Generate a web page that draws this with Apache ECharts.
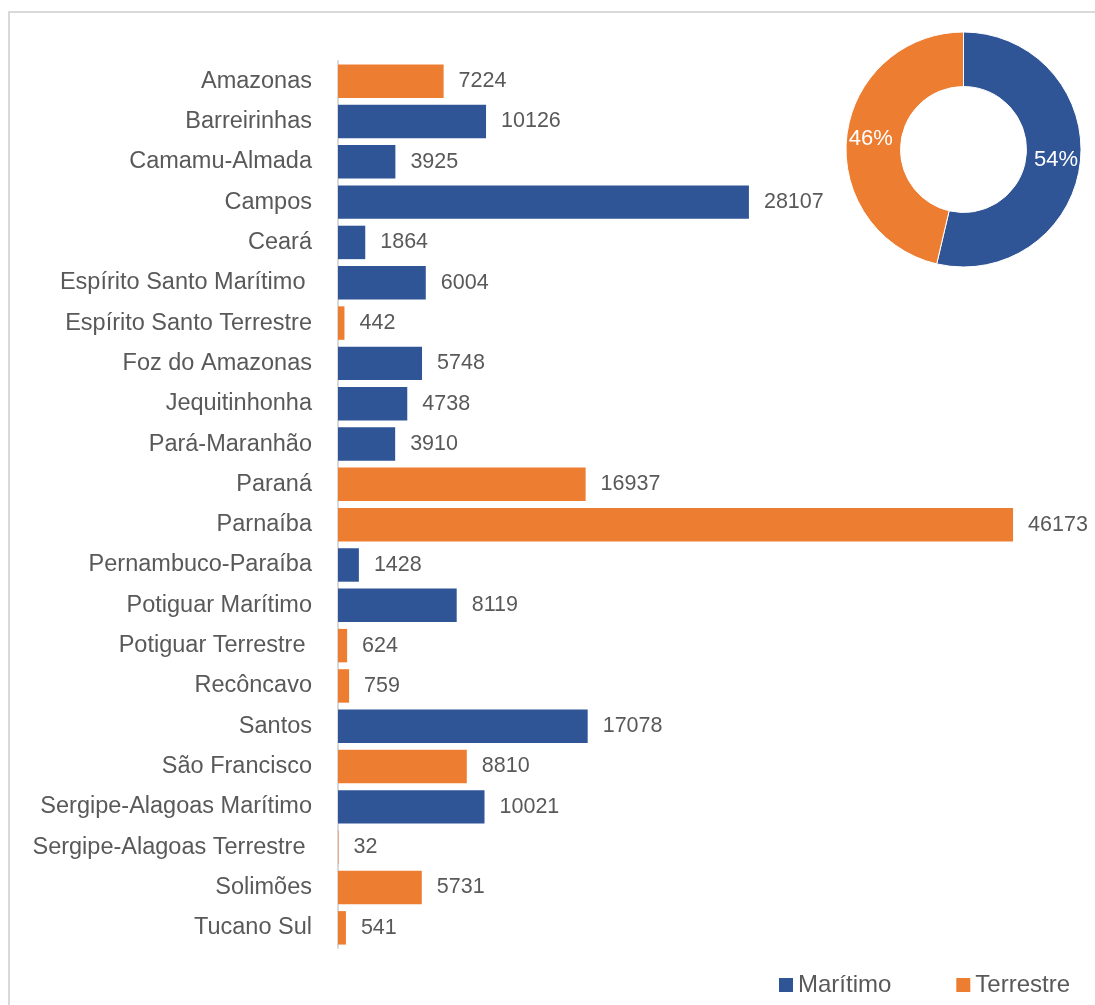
<!DOCTYPE html>
<html>
<head>
<meta charset="utf-8">
<title>Bacias sedimentares</title>
<script src="https://cdn.jsdelivr.net/npm/echarts@6/dist/echarts.min.js"></script>
<style>
  html, body { margin: 0; padding: 0; background: #fff; }
  #chart { width: 1095px; height: 1005px; }
</style>
</head>
<body>
<div id="chart"></div>
<script>
// Basins, top to bottom
const categories = [
  'Amazonas', 'Barreirinhas', 'Camamu-Almada', 'Campos', 'Ceará',
  'Espírito Santo Marítimo ', 'Espírito Santo Terrestre', 'Foz do Amazonas',
  'Jequitinhonha', 'Pará-Maranhão', 'Paraná', 'Parnaíba', 'Pernambuco-Paraíba',
  'Potiguar Marítimo', 'Potiguar Terrestre ', 'Recôncavo', 'Santos',
  'São Francisco', 'Sergipe-Alagoas Marítimo', 'Sergipe-Alagoas Terrestre ',
  'Solimões', 'Tucano Sul'
];

// Offshore values (null where the basin is onshore)
const maritimo = [
  null, 10126, 3925, 28107, 1864, 6004, null, 5748, 4738, 3910, null, null,
  1428, 8119, null, null, 17078, null, 10021, null, null, null
];

// Onshore values (null where the basin is offshore)
const terrestre = [
  7224, null, null, null, null, null, 442, null, null, null, 16937, 46173,
  null, null, 624, 759, null, 8810, null, 32, 5731, 541
];

const seriesNames = ['Marítimo', 'Terrestre'];
const colors = ['#2F5597', '#ED7D31'];

const sum = arr => arr.reduce((s, v) => s + (v || 0), 0);
const totals = [sum(maritimo), sum(terrestre)];

const FONT = '"Liberation Sans", Arial, sans-serif';
const TEXT = '#595959';

const barLabel = {
  show: true,
  position: 'right',
  distance: 15,
  color: TEXT,
  fontFamily: FONT,
  fontSize: 21.5
};

const chart = echarts.init(document.getElementById('chart'), null, { renderer: 'canvas' });

chart.setOption({
  animation: false,
  backgroundColor: '#fff',
  textStyle: { fontFamily: FONT },
  graphic: [{
    type: 'rect',
    shape: { x: 9, y: 12, width: 1100, height: 1000 },
    style: { fill: 'none', stroke: '#D9D9D9', lineWidth: 2 },
    silent: true,
    z: -1
  }],
  legend: {
    data: seriesNames,
    right: 20,
    top: 968,
    icon: 'rect',
    itemWidth: 14,
    itemHeight: 14,
    itemGap: 65,
    textStyle: { color: TEXT, fontFamily: FONT, fontSize: 24 }
  },
  grid: {
    left: 338,
    top: 61,
    width: 731,
    height: 887,
    containLabel: false
  },
  xAxis: {
    type: 'value',
    min: 0,
    max: 50000,
    show: false,
    splitLine: { show: false }
  },
  yAxis: {
    type: 'category',
    data: categories,
    inverse: true,
    axisLine: { show: true, lineStyle: { color: '#D9D9D9', width: 2 } },
    axisTick: { show: false },
    axisLabel: {
      color: TEXT,
      fontFamily: FONT,
      fontSize: 23.5,
      margin: 26
    }
  },
  series: [
    {
      name: seriesNames[0],
      type: 'bar',
      stack: 'bacia',
      data: maritimo,
      barCategoryGap: '17%',
      itemStyle: { color: colors[0] },
      label: barLabel
    },
    {
      name: seriesNames[1],
      type: 'bar',
      stack: 'bacia',
      data: terrestre,
      barCategoryGap: '17%',
      itemStyle: { color: colors[1] },
      label: barLabel
    },
    {
      name: 'Participação',
      type: 'pie',
      center: [963.5, 149.5],
      radius: [63, 117.5],
      startAngle: 90,
      clockwise: true,
      percentPrecision: 0,
      avoidLabelOverlap: false,
      itemStyle: { borderColor: '#fff', borderWidth: 1 },
      label: {
        show: true,
        position: 'inside',
        formatter: '{d}%',
        color: '#fff',
        fontFamily: FONT,
        fontSize: 22
      },
      labelLine: { show: false },
      data: [
        { name: seriesNames[0], value: totals[0], itemStyle: { color: colors[0] } },
        { name: seriesNames[1], value: totals[1], itemStyle: { color: colors[1] } }
      ]
    }
  ]
});
</script>
</body>
</html>
